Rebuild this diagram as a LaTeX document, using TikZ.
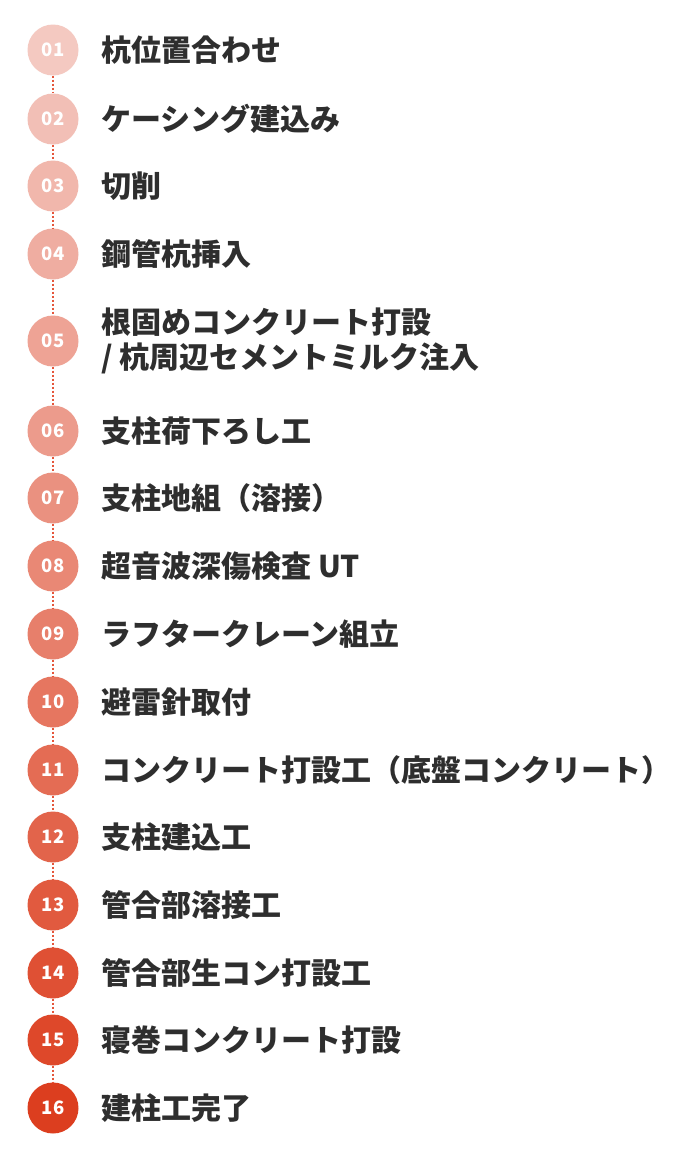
\documentclass[tikz,border=0pt]{standalone}
\usepackage{fontspec}
\newfontfamily\jp{Noto Sans CJK JP}
\definecolor{startc}{HTML}{F4C9C1}
\definecolor{endc}{HTML}{DC3E1F}
\definecolor{linec}{HTML}{E5563B}
\definecolor{txtc}{HTML}{2E2E2E}
\tikzset{
  stepcircle/.style={circle, minimum size=51pt, inner sep=0pt, text=white,
    font=\jp\bfseries\fontsize{18.5}{18.5}\selectfont},
  steplabel/.style={anchor=base west, inner sep=0pt, text=txtc,
    font=\jp\bfseries\fontsize{30}{35}\selectfont},
  steplink/.style={draw=linec, line width=2pt, dash pattern=on 2pt off 2pt}
}
\begin{document}
\begin{tikzpicture}[x=1pt,y=1pt]
\useasboundingbox (0,0) rectangle (685,-1163);
\fill[white] (0,0) rectangle (685,-1163);
\foreach \i/\y/\t in {
  01/50/{杭位置合わせ},
  02/119/{ケーシング建込み},
  03/186/{切削},
  04/254/{鋼管杭挿入},
  06/431/{支柱荷下ろし工},
  07/498/{支柱地組（溶接）},
  08/566/{超音波深傷検査 UT},
  09/634/{ラフタークレーン組立},
  10/702/{避雷針取付},
  11/770/{コンクリート打設工（底盤コンクリート）},
  12/837/{支柱建込工},
  13/905/{管合部溶接工},
  14/973/{管合部生コン打設工},
  15/1040/{寝巻コンクリート打設},
  16/1108/{建柱工完了}} {
  \edef\p{\the\numexpr(1\i-101)*100/15\relax}
  \colorlet{cc}{endc!\p!startc}
  \node[stepcircle, fill=cc] (c\i) at (53,-\y) {\i};
  \node[steplabel] (t\i) at (101,-\y-11) {\t};
}
\edef\p{\the\numexpr 400/15\relax}
\colorlet{cc}{endc!\p!startc}
\node[stepcircle, fill=cc] (c05) at (53,-341) {05};
\node[steplabel, align=left] (t05) at (101,-368) {根固めコンクリート打設\\/ 杭周辺セメントミルク注入};
\foreach \a/\b in {01/02,02/03,03/04,04/05,05/06,06/07,07/08,08/09,09/10,10/11,11/12,12/13,13/14,14/15,15/16} {
  \draw[steplink] (c\a.south) -- (c\b.north);
}
\end{tikzpicture}
\end{document}
